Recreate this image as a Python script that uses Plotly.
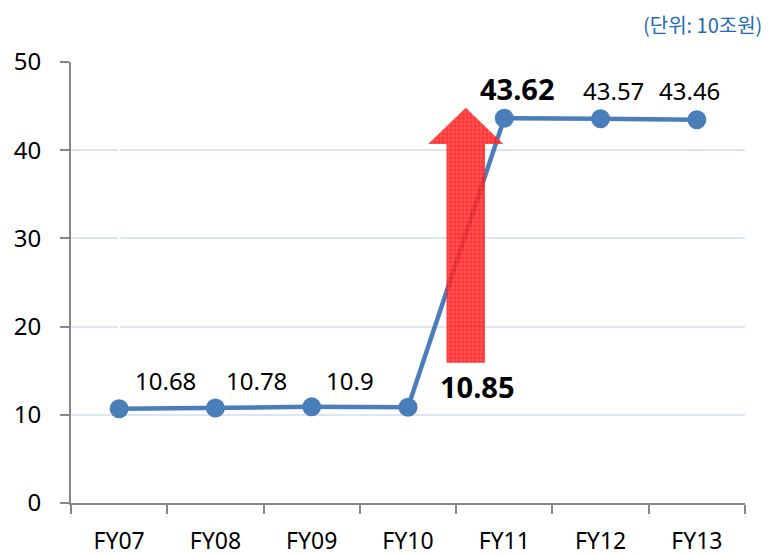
import plotly.graph_objects as go

categories = ["FY07", "FY08", "FY09", "FY10", "FY11", "FY12", "FY13"]
values = [10.68, 10.78, 10.9, 10.85, 43.62, 43.57, 43.46]
labels = ["10.68", "10.78", "10.9", "10.85", "43.62", "43.57", "43.46"]
bold_flags = [False, False, False, True, True, False, False]
y_ticks = [0, 10, 20, 30, 40, 50]
unit_text = "(단위: 10조원)"

# label offsets in pixels (xshift, yshift)
label_offsets = [(46, 28), (41, 27), (38, 26), (69, 21), (13, 30), (13, 28), (-7, 29)]

# arrow geometry in data units (center x index, tip, head base, bottom, half widths)
arrow_cx = 3.6
arrow_tip = 44.8
arrow_head_base = 40.7
arrow_bottom = 15.9
arrow_head_hw = 0.39
arrow_body_hw = 0.2

LINE = "#4a7ebb"
FONT = "Noto Sans"

fig = go.Figure()

fig.add_trace(go.Scatter(
    x=list(range(len(categories))), y=values, mode="lines+markers",
    line=dict(color=LINE, width=4.5),
    marker=dict(color=LINE, size=19),
    hoverinfo="skip", showlegend=False,
))

ax = [arrow_cx - arrow_body_hw, arrow_cx - arrow_body_hw, arrow_cx - arrow_head_hw,
      arrow_cx, arrow_cx + arrow_head_hw, arrow_cx + arrow_body_hw,
      arrow_cx + arrow_body_hw, arrow_cx - arrow_body_hw]
ay = [arrow_bottom, arrow_head_base, arrow_head_base, arrow_tip, arrow_head_base,
      arrow_head_base, arrow_bottom, arrow_bottom]
fig.add_trace(go.Scatter(
    x=ax, y=ay, mode="lines", fill="toself",
    line=dict(width=0, color="rgba(255,0,0,0)"),
    fillcolor="rgba(255,0,0,0.85)",
    fillpattern=dict(shape="+", bgcolor="rgba(255,15,15,0.85)",
                     fgcolor="rgba(255,170,170,0.95)", size=4, solidity=0.3),
    hoverinfo="skip", showlegend=False,
))

for i, (lab, v, b, off) in enumerate(zip(labels, values, bold_flags, label_offsets)):
    fig.add_annotation(
        x=i, y=v, text=f"<b>{lab}</b>" if b else lab, showarrow=False,
        xshift=off[0], yshift=off[1],
        font=dict(family=FONT, size=29 if b else 24, color="#000000"),
    )

fig.add_annotation(
    x=1, xref="paper", xanchor="right", xshift=19,
    y=1, yref="paper", yanchor="middle", yshift=38,
    text=unit_text, showarrow=False,
    font=dict(family="Noto Sans CJK KR", size=20, color="#1f6bb5"),
)

# page body has an 8px margin, so the figure is shifted by 8px right/down
fig.update_layout(
    width=767, height=547,
    margin=dict(l=63, r=30, t=54, b=52),
    paper_bgcolor="white", plot_bgcolor="white",
    font=dict(family=FONT, size=24, color="#000000"),
)
fig.update_xaxes(
    tickmode="array", tickvals=list(range(len(categories))), ticktext=categories,
    range=[-0.5, len(categories) - 0.5], automargin=False,
    showgrid=False, showline=True, linecolor="#868686", linewidth=2,
    ticks="", ticklabelstandoff=16,
    tickfont=dict(family=FONT, size=23),
)
fig.update_xaxes(minor=dict(tickmode="array", tickvals=[i - 0.5 for i in range(len(categories) + 1)],
                            ticks="outside", ticklen=9, tickwidth=2, tickcolor="#868686",
                            showgrid=False))
fig.update_yaxes(
    range=[0, 50], tickvals=y_ticks, automargin=False,
    showgrid=True, gridcolor="#dce6f2", gridwidth=2,
    showline=True, linecolor="#868686", linewidth=2,
    ticks="outside", ticklen=9, tickwidth=2, tickcolor="#868686",
    ticklabelstandoff=14,
    tickfont=dict(family=FONT, size=24),
    zeroline=False,
)

fig.write_html("out.html")
